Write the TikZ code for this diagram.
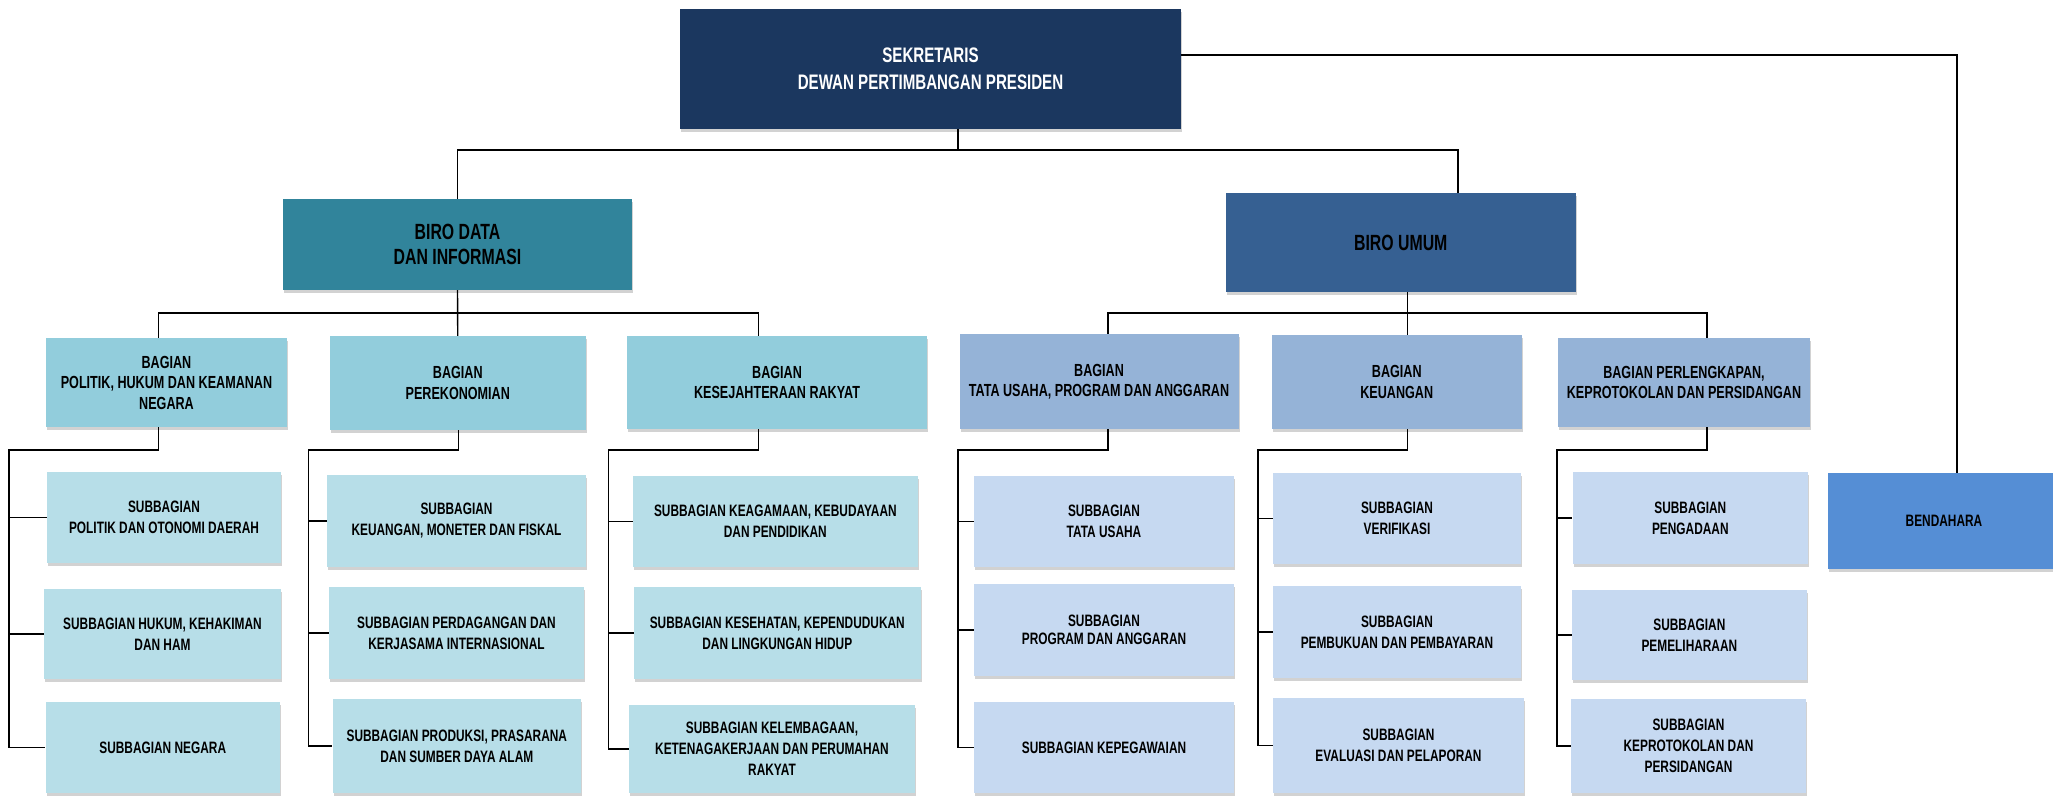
\documentclass[tikz,border=0pt]{standalone}
\usepackage{fontspec}
\setmainfont{Liberation Sans}[FakeStretch=0.72]
\usetikzlibrary{shadows}
\definecolor{navy}{HTML}{1B375F}
\definecolor{birodata}{HTML}{31849B}
\definecolor{biroumum}{HTML}{366092}
\definecolor{bagteal}{HTML}{92CDDC}
\definecolor{subteal}{HTML}{B7DEE8}
\definecolor{bagblue}{HTML}{95B3D7}
\definecolor{subblue}{HTML}{C6D9F1}
\definecolor{bendcol}{HTML}{558ED5}
\begin{document}
\begin{tikzpicture}[x=1pt,y=-1pt,
  box/.style={inner sep=2pt, align=center, text=black,
    drop shadow={shadow xshift=1.2pt, shadow yshift=-2.5pt, fill=black!35}},
  topbox/.style={box, fill=navy, text=white, font=\bfseries\fontsize{21}{27}\selectfont},
  birobox/.style={box, font=\bfseries\fontsize{22}{25}\selectfont},
  bagbox/.style={box, font=\bfseries\fontsize{17.5}{20.5}\selectfont},
  subbox/.style={box, font=\bfseries\fontsize{16.5}{21}\selectfont},
  conn/.style={line width=1.4pt, black}
]
\useasboundingbox (0,0) rectangle (2053,795);

% top level
\node[topbox, minimum width=501, minimum height=120] (sek) at (930.5,69) {SEKRETARIS\\DEWAN PERTIMBANGAN PRESIDEN};
\node[birobox, fill=birodata, minimum width=349, minimum height=91] (bdi) at (457.5,244.5) {BIRO DATA\\DAN INFORMASI};
\node[birobox, fill=biroumum, minimum width=349.5, minimum height=99] (bu) at (1400.75,242.5) {BIRO UMUM};
\node[subbox, fill=bendcol, minimum width=232, minimum height=96] (bend) at (1944,521) {BENDAHARA};

% bagian
\node[bagbox, fill=bagteal, minimum width=241, minimum height=89] (b1) at (166.5,382.5) {BAGIAN\\POLITIK, HUKUM DAN KEAMANAN\\NEGARA};
\node[bagbox, fill=bagteal, minimum width=256.5, minimum height=94] (b2) at (457.75,383) {BAGIAN\\PEREKONOMIAN};
\node[bagbox, fill=bagteal, minimum width=300, minimum height=93] (b3) at (777,382.5) {BAGIAN\\KESEJAHTERAAN RAKYAT};
\node[bagbox, fill=bagblue, minimum width=279, minimum height=95] (b4) at (1099,381.5) {BAGIAN\\TATA USAHA, PROGRAM DAN ANGGARAN};
\node[bagbox, fill=bagblue, minimum width=249.5, minimum height=94] (b5) at (1396.75,382) {BAGIAN\\KEUANGAN};
\node[bagbox, fill=bagblue, minimum width=252, minimum height=89] (b6) at (1684,382.5) {BAGIAN PERLENGKAPAN,\\KEPROTOKOLAN DAN PERSIDANGAN};

% subbagian group 1
\node[subbox, fill=subteal, minimum width=234, minimum height=91] (s1a) at (164,517.5) {SUBBAGIAN\\POLITIK DAN OTONOMI DAERAH};
\node[subbox, fill=subteal, minimum width=237, minimum height=90] (s1b) at (162.5,634) {SUBBAGIAN HUKUM, KEHAKIMAN\\DAN HAM};
\node[subbox, fill=subteal, minimum width=234.5, minimum height=91] (s1c) at (162.75,747.5) {SUBBAGIAN NEGARA};
% group 2
\node[subbox, fill=subteal, minimum width=259, minimum height=92] (s2a) at (456.5,521) {SUBBAGIAN\\KEUANGAN, MONETER DAN FISKAL};
\node[subbox, fill=subteal, minimum width=255, minimum height=92] (s2b) at (456.5,633) {SUBBAGIAN PERDAGANGAN DAN\\KERJASAMA INTERNASIONAL};
\node[subbox, fill=subteal, minimum width=248.4, minimum height=94] (s2c) at (456.8,746) {SUBBAGIAN PRODUKSI, PRASARANA\\DAN SUMBER DAYA ALAM};
% group 3
\node[subbox, fill=subteal, minimum width=285.3, minimum height=91] (s3a) at (775.35,521.5) {SUBBAGIAN KEAGAMAAN, KEBUDAYAAN\\DAN PENDIDIKAN};
\node[subbox, fill=subteal, minimum width=286.6, minimum height=92] (s3b) at (777.3,633) {SUBBAGIAN KESEHATAN, KEPENDUDUKAN\\DAN LINGKUNGAN HIDUP};
\node[subbox, fill=subteal, minimum width=286, minimum height=88] (s3c) at (772,749) {SUBBAGIAN KELEMBAGAAN,\\KETENAGAKERJAAN DAN PERUMAHAN\\RAKYAT};
% group 4
\node[subbox, fill=subblue, minimum width=260, minimum height=91] (s4a) at (1104,521.5) {SUBBAGIAN\\TATA USAHA};
\node[subbox, fill=subblue, minimum width=260, minimum height=92, font=\bfseries\fontsize{16.5}{18.5}\selectfont] (s4b) at (1104,630) {SUBBAGIAN\\PROGRAM DAN ANGGARAN};
\node[subbox, fill=subblue, minimum width=260, minimum height=91] (s4c) at (1104,747.5) {SUBBAGIAN KEPEGAWAIAN};
% group 5
\node[subbox, fill=subblue, minimum width=248, minimum height=91] (s5a) at (1397,518.5) {SUBBAGIAN\\VERIFIKASI};
\node[subbox, fill=subblue, minimum width=248, minimum height=92] (s5b) at (1397,632) {SUBBAGIAN\\PEMBUKUAN DAN PEMBAYARAN};
\node[subbox, fill=subblue, minimum width=251, minimum height=95] (s5c) at (1398.5,745.5) {SUBBAGIAN\\EVALUASI DAN PELAPORAN};
% group 6
\node[subbox, fill=subblue, minimum width=235.4, minimum height=92] (s6a) at (1690.3,518) {SUBBAGIAN\\PENGADAAN};
\node[subbox, fill=subblue, minimum width=234.7, minimum height=90] (s6b) at (1689.35,635) {SUBBAGIAN\\PEMELIHARAAN};
\node[subbox, fill=subblue, minimum width=235, minimum height=94] (s6c) at (1688.5,746) {SUBBAGIAN\\KEPROTOKOLAN DAN\\PERSIDANGAN};

% junction coordinates
\coordinate (t) at (958,150);
\coordinate (m1) at (459,313);
\coordinate (m2) at (1407.6,313);
\coordinate (j1) at (9,450);
\coordinate (j2) at (308.5,450);
\coordinate (j3) at (608.5,450);
\coordinate (j4) at (958,450);
\coordinate (j5) at (1258,450);
\coordinate (j6) at (1557,450);

% top connectors
\draw[conn] ([xshift=27.5]sek.south) -- (t);
\draw[conn] (bdi.north) |- (t) -| ([xshift=57.25]bu.north);
\draw[conn] ([yshift=14]sek.east) -| ([xshift=13]bend.north);

% biro to bagian
\draw[conn] (bdi.south) -- (b2.north);
\draw[conn] ([xshift=-8]b1.north) |- (m1) -| ([xshift=-18.4]b3.north);
\draw[conn] ([xshift=6.85]bu.south) -- ([xshift=10.85]b5.north);
\draw[conn] ([xshift=9]b4.north) |- (m2) -| ([xshift=23]b6.north);

% bagian to subbagian
\draw[conn] ([xshift=-8]b1.south) |- (j1) |- (s1c.west);
\draw[conn] (j1) |- (s1a.west);
\draw[conn] (j1) |- (s1b.west);

\draw[conn] ([xshift=0.75]b2.south) |- (j2) |- (s2c.west);
\draw[conn] (j2) |- (s2a.west);
\draw[conn] (j2) |- (s2b.west);

\draw[conn] ([xshift=-18.4]b3.south) |- (j3) |- (s3c.west);
\draw[conn] (j3) |- (s3a.west);
\draw[conn] (j3) |- (s3b.west);

\draw[conn] ([xshift=9]b4.south) |- (j4) |- (s4c.west);
\draw[conn] (j4) |- (s4a.west);
\draw[conn] (j4) |- (s4b.west);

\draw[conn] ([xshift=10.95]b5.south) |- (j5) |- (s5c.west);
\draw[conn] (j5) |- (s5a.west);
\draw[conn] (j5) |- (s5b.west);

\draw[conn] ([xshift=23]b6.south) |- (j6) |- (s6c.west);
\draw[conn] (j6) |- (s6a.west);
\draw[conn] (j6) |- (s6b.west);
\end{tikzpicture}
\end{document}
